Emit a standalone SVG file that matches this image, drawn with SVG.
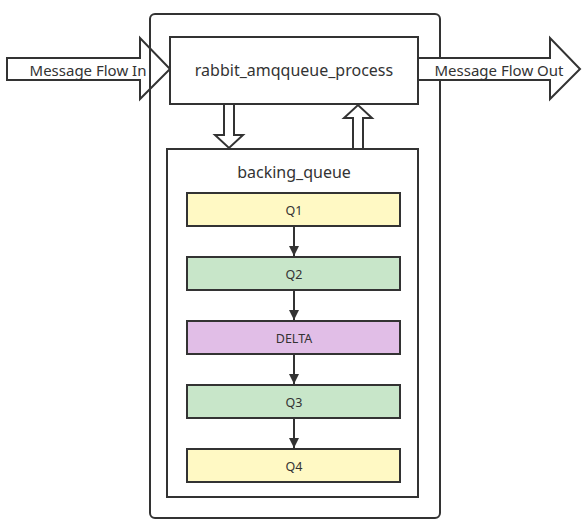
<svg xmlns="http://www.w3.org/2000/svg" width="587" height="528" viewBox="0 0 587 528">
<style>
.box{stroke:#333;stroke-width:2;}
.t{font-family:"Noto Sans","Open Sans","DejaVu Sans",sans-serif;fill:#333;text-anchor:middle;dominant-baseline:central;}
.big{font-size:16px;}
.fl{font-size:15px;}
.sm{font-size:12.5px;}
.conn{stroke:#333;stroke-width:2;fill:none;}
.hollow{fill:#fff;stroke:#333;stroke-width:2;stroke-linejoin:miter;}
</style>
<defs>
<marker id="ah" markerWidth="12" markerHeight="12" refX="11" refY="6" orient="auto" markerUnits="userSpaceOnUse">
<path d="M1,1 L11,6 L1,11 Z" fill="#333"/>
</marker>
</defs>
<rect width="587" height="528" fill="#fff"/>
<g id="flow-arrows">
<path class="hollow" d="M7,58 L140,58 L140,38 L170,69 L140,99 L140,80 L7,80 Z"/>
<path class="hollow" d="M418,58 L550,58 L550,38 L580,69 L550,99 L550,80 L418,80 Z"/>
</g>
<g id="container">
<rect class="box" x="150" y="14" width="290" height="504" rx="5" fill="none"/>
</g>
<g id="flow-labels">
<rect x="8" y="59" width="131" height="20" fill="#fff"/>
<text class="t fl" x="88" y="70">Message Flow In</text>
<rect x="419" y="59" width="130" height="20" fill="#fff"/>
<text class="t fl" x="499" y="70">Message Flow Out</text>
</g>
<g id="process">
<rect class="box" x="170" y="37" width="248" height="67" fill="#fff"/>
<text class="t big" x="294" y="70">rabbit_amqqueue_process</text>
</g>
<g id="backing_queue">
<rect class="box" x="167" y="149" width="251" height="348" fill="#fff"/>
<text class="t big" x="294" y="172">backing_queue</text>
</g>
<g id="connectors">
<path class="hollow" d="M224,104 L234,104 L234,135 L243,135 L229,148 L215,135 L224,135 Z"/>
<path class="hollow" d="M353,149 L363,149 L363,118 L372,118 L358,105 L344,118 L353,118 Z"/>
<line class="conn" x1="294" y1="226" x2="294" y2="256" marker-end="url(#ah)"/>
<line class="conn" x1="294" y1="290" x2="294" y2="320" marker-end="url(#ah)"/>
<line class="conn" x1="294" y1="354" x2="294" y2="384" marker-end="url(#ah)"/>
<line class="conn" x1="294" y1="418" x2="294" y2="448" marker-end="url(#ah)"/>
</g>
<g id="q1">
<rect class="box" x="187" y="193" width="213" height="33" fill="#fff9c4"/>
<text class="t sm" x="294" y="210">Q1</text>
</g>
<g id="q2">
<rect class="box" x="187" y="257" width="213" height="33" fill="#c8e6c9"/>
<text class="t sm" x="294" y="274">Q2</text>
</g>
<g id="delta">
<rect class="box" x="187" y="321" width="213" height="33" fill="#e1bee7"/>
<text class="t sm" x="294" y="338">DELTA</text>
</g>
<g id="q3">
<rect class="box" x="187" y="385" width="213" height="33" fill="#c8e6c9"/>
<text class="t sm" x="294" y="402">Q3</text>
</g>
<g id="q4">
<rect class="box" x="187" y="449" width="213" height="33" fill="#fff9c4"/>
<text class="t sm" x="294" y="466">Q4</text>
</g>
</svg>
